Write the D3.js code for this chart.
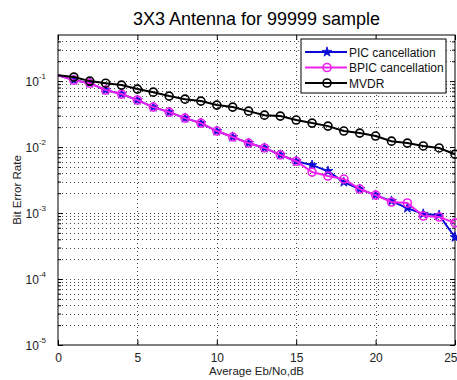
<!DOCTYPE html>
<html>
<head>
<meta charset="utf-8">
<script src="https://d3js.org/d3.v7.min.js"></script>
<style>
  html, body { margin: 0; padding: 0; background: #fff; }
  svg { display: block; font-family: "Liberation Sans", Arial, sans-serif; }
</style>
</head>
<body>
<div id="chart"></div>
<script>
// chart data
const ebno = [0, 1, 2, 3, 4, 5, 6, 7, 8, 9, 10, 11, 12, 13, 14, 15, 16, 17, 18, 19, 20, 21, 22, 23, 24, 25];
const picBer = [0.123, 0.1035, 0.093, 0.073, 0.0636, 0.0515, 0.0404, 0.0339, 0.0275, 0.0231, 0.0175, 0.0142, 0.0115, 0.0097, 0.0076, 0.0061,
  0.00533, 0.00433, 0.00295, 0.00231, 0.00187, 0.00152, 0.00119, 0.00097, 0.00093, 0.00043];
const bpicBer = [0.123, 0.1035, 0.093, 0.073, 0.0636, 0.0515, 0.0404, 0.0339, 0.0275, 0.0231, 0.0175, 0.0142, 0.0115, 0.0097, 0.0076, 0.0061,
  0.00418, 0.00364, 0.00328, 0.00231, 0.00187, 0.00147, 0.00142, 0.00090, 0.00087, 0.00071];
const mvdrBer = [0.123, 0.115, 0.100, 0.093, 0.087, 0.0757, 0.068, 0.0593, 0.0533, 0.0498, 0.0433, 0.0404, 0.0351, 0.0305, 0.0295, 0.0257,
  0.0231, 0.0208, 0.0175, 0.0163, 0.0147, 0.0123, 0.0115, 0.0104, 0.0097, 0.0078];
const seriesNames = ["PIC cancellation", "BPIC cancellation", "MVDR"];
const xTicks = [0, 5, 10, 15, 20, 25];
const yDecades = [-5, -4, -3, -2, -1];
const titleText = "3X3 Antenna for 99999 sample";
const xLabel = "Average Eb/No,dB";
const yLabel = "Bit Error Rate";

const W = 457, H = 380;
const margin = {top: 35, right: 2, bottom: 35, left: 58};

const svg = d3.select("#chart").append("svg")
  .attr("width", W).attr("height", H);

const x = d3.scaleLinear().domain([0, 25]).range([margin.left, W - margin.right]);
const y = d3.scaleLog().domain([1e-5, 0.5]).range([H - margin.bottom, margin.top]);

// grid: vertical majors, horizontal log minors + majors
const minorVals = [];
for (let e = -5; e <= -1; e++) {
  for (let m = 1; m <= 9; m++) {
    const v = m * Math.pow(10, e);
    if (v > 1e-5 && v < 0.5) minorVals.push(v);
  }
}
const grid = svg.append("g").attr("stroke", "#333").attr("stroke-dasharray", "1,3").attr("stroke-width", 0.9);
grid.selectAll("line.h").data(minorVals).join("line")
  .attr("x1", x(0)).attr("x2", x(25))
  .attr("y1", d => Math.round(y(d)) + 0.5).attr("y2", d => Math.round(y(d)) + 0.5);
grid.selectAll("line.v").data(xTicks.slice(1, -1)).join("line")
  .attr("x1", d => Math.round(x(d)) + 0.5).attr("x2", d => Math.round(x(d)) + 0.5)
  .attr("y1", y(0.5)).attr("y2", y(1e-5));

// axes box
svg.append("rect")
  .attr("x", x(0)).attr("y", y(0.5))
  .attr("width", x(25) - x(0)).attr("height", y(1e-5) - y(0.5))
  .attr("fill", "none").attr("stroke", "#000").attr("stroke-width", 1);

// ticks inside (bottom/top, left/right)
const xAxisB = d3.axisBottom(x).tickValues(xTicks).tickSizeInner(-5).tickSizeOuter(0).tickPadding(8);
const gx = svg.append("g").attr("transform", `translate(0,${y(1e-5)})`).call(xAxisB);
gx.select(".domain").remove();
gx.selectAll("text").attr("font-size", 12).attr("fill", "#222").attr("font-family", "Liberation Sans, Arial, sans-serif");
// last label sits against the right edge
gx.selectAll("text").filter(d => d === 25).attr("text-anchor", "end").attr("dx", 2);

const gxt = svg.append("g").attr("transform", `translate(0,${y(0.5)})`)
  .call(d3.axisTop(x).tickValues(xTicks).tickSizeInner(-5).tickSizeOuter(0).tickFormat(""));
gxt.select(".domain").remove();

const majorY = yDecades.map(e => Math.pow(10, e));
const minorY = minorVals.filter(v => !majorY.some(m => Math.abs(m - v) / v < 1e-9));
[[d3.axisLeft, x(0)], [d3.axisRight, x(25)]].forEach(([ax, px]) => {
  const g1 = svg.append("g").attr("transform", `translate(${px},0)`)
    .call(ax(y).tickValues(majorY).tickSizeInner(-5).tickSizeOuter(0).tickFormat(""));
  g1.select(".domain").remove();
  const g2 = svg.append("g").attr("transform", `translate(${px},0)`)
    .call(ax(y).tickValues(minorY).tickSizeInner(-3).tickSizeOuter(0).tickFormat(""));
  g2.select(".domain").remove();
});

// y tick labels 10^e
const ylab = svg.append("g").attr("font-size", 12).attr("fill", "#222");
yDecades.forEach(e => {
  const t = ylab.append("text")
    .attr("x", x(0) - 12).attr("y", y(Math.pow(10, e)) + 5)
    .attr("text-anchor", "end");
  t.append("tspan").text("10");
  t.append("tspan").attr("font-size", 8).attr("dy", -7).text(String(e));
});

// series
const series = [
  {name: seriesNames[0], vals: picBer, color: "#0a0ad8", marker: "star"},
  {name: seriesNames[1], vals: bpicBer, color: "#ee22ee", marker: "circle"},
  {name: seriesNames[2], vals: mvdrBer, color: "#000", marker: "circle"}
];
const line = d3.line().x(d => x(d[0])).y(d => y(d[1]));
const star = d3.symbol().type(d3.symbolStar).size(30);

function drawMarker(g, cx, cy, s) {
  if (s.marker === "star") {
    g.append("path").attr("d", star()).attr("transform", `translate(${cx},${cy})`)
      .attr("fill", s.color).attr("stroke", s.color).attr("stroke-width", 0.8);
  } else {
    g.append("circle").attr("cx", cx).attr("cy", cy).attr("r", 4)
      .attr("fill", "none").attr("stroke", s.color).attr("stroke-width", 1.6);
  }
}

series.forEach(s => {
  const pts = ebno.map((e, i) => [e, s.vals[i]]);
  svg.append("path").datum(pts).attr("d", line)
    .attr("fill", "none").attr("stroke", s.color).attr("stroke-width", 2);
  const g = svg.append("g");
  pts.filter(p => p[0] > 0).forEach(p => drawMarker(g, x(p[0]), y(p[1]), s));
});

// legend
const lg = svg.append("g").attr("transform", "translate(301,39)");
lg.append("rect").attr("width", 145).attr("height", 54)
  .attr("fill", "#fff").attr("stroke", "#000").attr("stroke-width", 1);
series.forEach((s, i) => {
  const ly = 13 + i * 15.5;
  lg.append("line").attr("x1", 4).attr("x2", 46).attr("y1", ly).attr("y2", ly)
    .attr("stroke", s.color).attr("stroke-width", 2);
  drawMarker(lg, 26, ly, s);
  lg.append("text").attr("x", 48).attr("y", ly + 4.5)
    .attr("font-size", 12).attr("fill", "#111").text(s.name);
});

// title and axis labels
svg.append("text").attr("x", (x(0) + x(25)) / 2).attr("y", 25)
  .attr("text-anchor", "middle").attr("font-size", 18).attr("fill", "#000").text(titleText);
svg.append("text").attr("x", (x(0) + x(25)) / 2).attr("y", 375)
  .attr("text-anchor", "middle").attr("font-size", 11.5).attr("fill", "#222").text(xLabel);
svg.append("text").attr("transform", `translate(21,${(y(0.5) + y(1e-5)) / 2}) rotate(-90)`)
  .attr("text-anchor", "middle").attr("font-size", 11.5).attr("fill", "#222").text(yLabel);
</script>
</body>
</html>
